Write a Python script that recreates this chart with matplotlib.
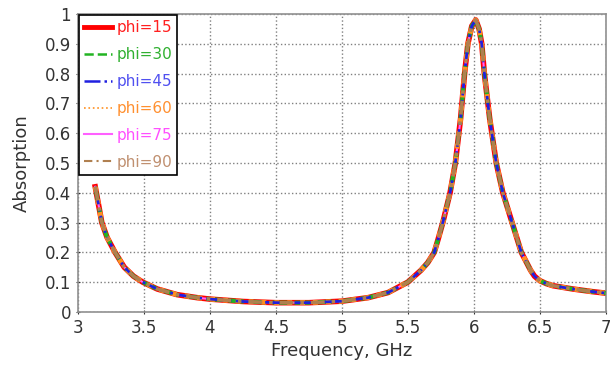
import numpy as np
import matplotlib.pyplot as plt

# (all six phi curves overlap)
freq = [3.13, 3.18, 3.22, 3.28, 3.35, 3.42, 3.49, 3.6, 3.75, 3.9, 4.0, 4.25, 4.5, 4.75,
        5.0, 5.2, 5.35, 5.5, 5.6, 5.65, 5.7, 5.73, 5.765, 5.82, 5.86, 5.9, 5.93, 5.955,
        5.985, 6.015, 6.04, 6.06, 6.08, 6.12, 6.17, 6.22, 6.29, 6.36, 6.43, 6.46, 6.5,
        6.55, 6.6, 6.75, 6.9, 7.0]
absorption = [0.42, 0.3, 0.25, 0.2, 0.15, 0.12, 0.1, 0.077, 0.058, 0.048, 0.043, 0.035,
              0.031, 0.031, 0.036, 0.048, 0.065, 0.1, 0.14, 0.165, 0.2, 0.245, 0.3, 0.4,
              0.5, 0.65, 0.8, 0.9, 0.96, 0.98, 0.95, 0.9, 0.8, 0.65, 0.5, 0.4, 0.3, 0.2,
              0.14, 0.12, 0.105, 0.095, 0.088, 0.077, 0.068, 0.063]

phis = [15, 30, 45, 60, 75, 90]
colors = ['#ff0000', '#22b422', '#2020e0', '#ff9020', '#ff60ff', '#b08050']
text_colors = ['#ff2020', '#30b030', '#5050f0', '#ff9030', '#ff50ff', '#c09070']
styles = ['-', '--', '-.', ':', '-', (0, (4, 2, 1, 2))]
widths = [4.0, 3.0, 2.0, 3.5, 1.5, 2.5]
zorders = [2, 4, 6, 5, 3, 7]
legend_widths = [3.5, 1.8, 1.8, 1.2, 1.5, 1.5]

fig = plt.figure(figsize=(6.1, 3.79), dpi=100)
ax = fig.add_axes([0.128, 0.177, 0.865, 0.786])

for phi, c, ls, lw, z in zip(phis, colors, styles, widths, zorders):
    ax.plot(freq, absorption, color=c, linestyle=ls, linewidth=lw, zorder=z,
            label='phi=%d' % phi)

ax.set_xlim(3, 7)
ax.set_ylim(0, 1)
ax.set_xticks(np.arange(3, 7.01, 0.5))
ax.set_xticklabels(['3', '3.5', '4', '4.5', '5', '5.5', '6', '6.5', '7'])
ax.set_yticks(np.arange(0, 1.01, 0.1))
ax.set_yticklabels(['0', '0.1', '0.2', '0.3', '0.4', '0.5', '0.6', '0.7', '0.8', '0.9', '1'])
ax.grid(True, linestyle=':', color='#808080', linewidth=1)
for s in ax.spines.values():
    s.set_color('#909090')
    s.set_linewidth(1.2)
ax.tick_params(labelsize=12, colors='#333333', length=3, direction='inout')
ax.set_xlabel('Frequency, GHz', fontsize=13, color='#333333')
ax.set_ylabel('Absorption', fontsize=13, color='#333333', labelpad=10)

leg = ax.legend(loc='upper left', fontsize=11, frameon=True, fancybox=False,
                edgecolor='black', handlelength=1.8, handletextpad=0.3,
                borderaxespad=0.05, labelspacing=0.78, borderpad=0.35, framealpha=1)
leg.set_zorder(10)
leg.get_frame().set_linewidth(1.2)
for t, c in zip(leg.get_texts(), text_colors):
    t.set_color(c)
for h, w in zip(leg.get_lines(), legend_widths):
    h.set_linewidth(w)

plt.savefig('out.png')
